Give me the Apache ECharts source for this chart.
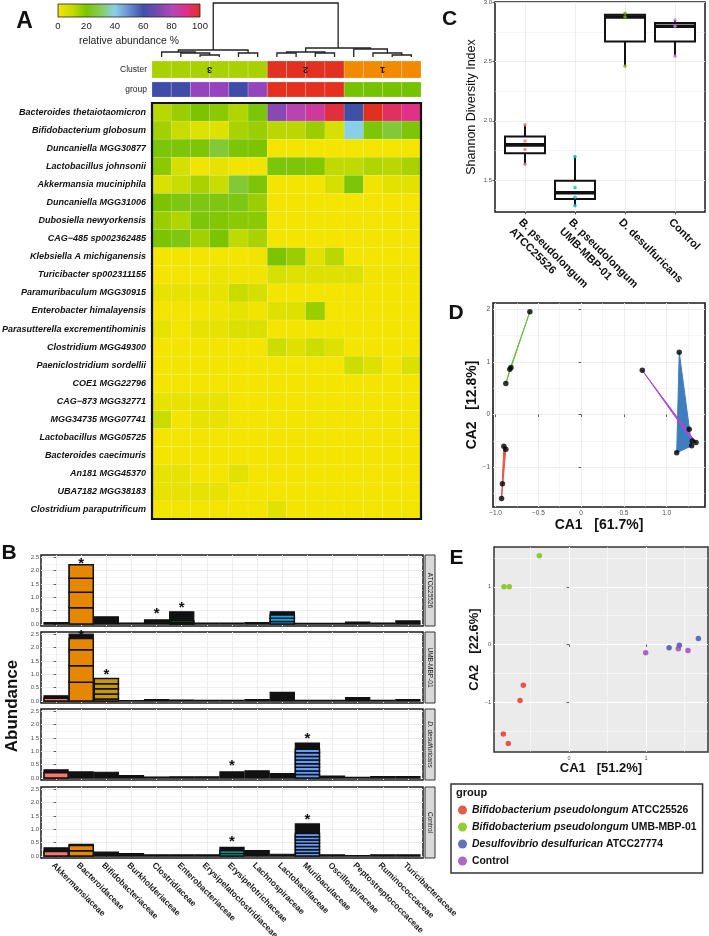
<!DOCTYPE html>
<html>
<head>
<meta charset="utf-8">
<script src="https://cdn.jsdelivr.net/npm/echarts/dist/echarts.min.js"></script>
<style>html,body{margin:0;padding:0;background:#fff}#c{width:709px;height:936px}</style>
</head>
<body>
<div id="c"></div>
<script>
// ================= DATA =================
const colorbarTicks = [0, 20, 40, 60, 80, 100];
const sampleCluster = [3, 3, 3, 3, 3, 3, 2, 2, 2, 2, 1, 1, 1, 1];
const sampleGroup = ['DD', 'DD', 'CT', 'CT', 'DD', 'CT', 'AT', 'AT', 'AT', 'AT', 'UM', 'UM', 'UM', 'UM'];
// [child a, child b, height]  (leaves 0..13, merged nodes numbered from 14)
const dendroMerges = [
  [2, 3, 0.037], [1, 14, 0.074], [0, 15, 0.093], [4, 5, 0.074], [16, 17, 0.13],
  [6, 7, 0.074], [8, 9, 0.074], [19, 20, 0.093], [12, 13, 0.037], [11, 22, 0.074],
  [10, 23, 0.148], [21, 24, 0.167], [18, 25, 1.0]
];
const species = [
  'Bacteroides thetaiotaomicron', 'Bifidobacterium globosum', 'Duncaniella MGG30877',
  'Lactobacillus johnsonii', 'Akkermansia muciniphila', 'Duncaniella MGG31006',
  'Dubosiella newyorkensis', 'CAG\u2212485 sp002362485', 'Klebsiella A michiganensis',
  'Turicibacter sp002311155', 'Paramuribaculum MGG30915', 'Enterobacter himalayensis',
  'Parasutterella excrementihominis', 'Clostridium MGG49300', 'Paeniclostridium sordellii',
  'COE1 MGG22796', 'CAG\u2212873 MGG32771', 'MGG34735 MGG07741', 'Lactobacillus MGG05725',
  'Bacteroides caecimuris', 'An181 MGG45370', 'UBA7182 MGG38183', 'Clostridium paraputrificum'
];
const abundance = [
  [12, 16, 20, 18, 13, 21, 73, 82, 86, 97, 60, 100, 94, 90],
  [15, 10, 5, 5, 14, 16, 12, 12, 16, 7, 40, 21, 26, 21],
  [21, 21, 21, 26, 21, 20, 0, 0, 0, 0, 0, 0, 0, 0],
  [18, 7, 1, 3, 1, 1, 21, 21, 19, 11, 11, 13, 12, 14],
  [6, 10, 14, 10, 26, 21, 0, 0, 0, 7, 21, 1, 4, 4],
  [20, 22, 22, 22, 22, 16, 0, 0, 0, 0, 0, 0, 0, 0],
  [16, 13, 21, 19, 18, 18, 0, 0, 0, 0, 0, 0, 0, 0],
  [20, 22, 15, 20, 11, 14, 0, 0, 0, 0, 0, 0, 0, 0],
  [0, 0, 0, 0, 0, 1, 20, 16, 4, 12, 0, 0, 0, 0],
  [0, 0, 0, 2, 1, 1, 7, 5, 5, 5, 5, 1, 1, 1],
  [3, 3, 3, 3, 10, 7, 0, 0, 0, 0, 0, 0, 0, 0],
  [0, 0, 0, 1, 3, 1, 5, 5, 16, 0, 0, 0, 0, 0],
  [3, 0, 3, 3, 6, 6, 0, 0, 0, 0, 0, 0, 0, 0],
  [0, 0, 0, 0, 0, 0, 9, 5, 9, 5, 0, 0, 0, 0],
  [0, 0, 0, 0, 0, 0, 0, 0, 0, 0, 9, 5, 0, 6],
  [0, 0, 0, 0, 0, 0, 0, 0, 0, 0, 0, 0, 0, 0],
  [3, 3, 3, 3, 0, 0, 0, 0, 0, 0, 0, 0, 0, 0],
  [10, 0, 3, 3, 0, 0, 0, 0, 0, 0, 0, 0, 0, 0],
  [0, 0, 0, 0, 0, 0, 0, 0, 0, 0, 0, 0, 0, 0],
  [0, 0, 0, 0, 0, 0, 0, 0, 0, 0, 0, 0, 0, 0],
  [3, 3, 0, 0, 4, 0, 0, 0, 0, 0, 0, 0, 0, 0],
  [3, 3, 3, 3, 0, 0, 0, 0, 0, 0, 0, 0, 0, 0],
  [0, 0, 0, 0, 0, 0, 4, 0, 0, 0, 0, 0, 0, 0]
];

const families = ['Akkermansiaceae', 'Bacteroidaceae', 'Bifidobacteriaceae', 'Burkholderiaceae',
  'Clostridiaceae', 'Enterobacteriaceae', 'Erysipelatoclostridiaceae', 'Erysipelotrichaceae',
  'Lachnospiraceae', 'Lactobacillaceae', 'Muribaculaceae', 'Oscillospiraceae',
  'Peptostreptococcaceae', 'Ruminococcaceae', 'Turicibacteraceae'];
const facetNames = ['ATCC25526', 'UMB-MBP-01', 'D. desulfuricans', 'Control'];
const familyTotals = [
  [0.06, 2.22, 0.27, 0.04, 0.16, 0.46, 0.04, 0.04, 0.06, 0.46, 0.03, 0.03, 0.08, 0.04, 0.12],
  [0.20, 2.50, 0.84, 0.02, 0.06, 0.04, 0.03, 0.03, 0.06, 0.33, 0.03, 0.03, 0.13, 0.03, 0.06],
  [0.31, 0.23, 0.22, 0.09, 0.04, 0.05, 0.05, 0.23, 0.27, 0.17, 1.31, 0.08, 0.03, 0.06, 0.06],
  [0.31, 0.44, 0.15, 0.09, 0.05, 0.05, 0.05, 0.33, 0.21, 0.07, 1.20, 0.05, 0.02, 0.05, 0.05]
];
// [facet, family, visible species segments from the bottom]; the rest of each bar = many tiny taxa
const speciesSegments = [
  [0, 1, [0.61, 0.58, 0.52, 0.51]],
  [0, 5, [0.05, 0.07]],
  [0, 9, [0.10, 0.12, 0.12]],
  [1, 0, [0.11]],
  [1, 1, [0.70, 0.62, 0.60, 0.42]],
  [1, 2, [0.08, 0.19, 0.19, 0.19, 0.19]],
  [2, 0, [0.20]],
  [2, 10, [0.135, 0.135, 0.135, 0.135, 0.135, 0.135, 0.135, 0.135]],
  [3, 0, [0.17]],
  [3, 1, [0.20, 0.20]],
  [3, 7, [0.10, 0.10]],
  [3, 10, [0.12, 0.12, 0.12, 0.12, 0.12, 0.12, 0.12]]
];
const starMarks = [[0, 1, 2.38], [0, 4, 0.52], [0, 5, 0.74], [1, 1, 2.6], [1, 2, 1.12],
  [2, 7, 0.6], [2, 10, 1.6], [3, 7, 0.67], [3, 10, 1.52]];
const abundanceTicks = [0, 0.5, 1, 1.5, 2, 2.5];
const abundanceMinor = [0.25, 0.75, 1.25, 1.75, 2.25];

const boxCats = ['B. pseudolongum\nATCC25526', 'B. pseudolongum\nUMB-MBP-01', 'D. desulfuricans', 'Control'];
const boxStats = [ // [min, Q1, median, Q3, max]
  [1.633, 1.726, 1.797, 1.867, 1.966],
  [1.282, 1.339, 1.392, 1.494, 1.697],
  [2.463, 2.672, 2.878, 2.897, 2.91],
  [2.547, 2.672, 2.80, 2.828, 2.853]
];
const shannonPoints = [[1.966, 1.83, 1.757, 1.633], [1.697, 1.435, 1.353, 1.282], [2.91, 2.878, 2.463], [2.853, 2.80, 2.547]];
const shannonTicks = [1.5, 2.0, 2.5, 3.0];
const shannonMinor = [1.25, 1.75, 2.25, 2.75];

const groupOrder = ['AT', 'UM', 'DD', 'CT'];
const groupSpecies = ['Bifidobacterium pseudolongum', 'Bifidobacterium pseudolongum', 'Desulfovibrio desulfurican', ''];
const groupStrain = ['ATCC25526', 'UMB-MBP-01', 'ATCC27774', 'Control'];
const caD = {
  UM: [[-0.599, 1.95], [-0.833, 0.86], [-0.82, 0.89], [-0.88, 0.59]],
  AT: [[-0.903, -0.60], [-0.88, -0.66], [-0.92, -1.31], [-0.93, -1.59]],
  DD: [[1.147, 1.18], [1.264, -0.277], [1.292, -0.594], [1.117, -0.726]],
  CT: [[0.715, 0.837], [1.343, -0.53], [1.30, -0.50]]
};
const caDTicksX = [-1, -0.5, 0, 0.5, 1], caDMinorX = [-0.75, -0.25, 0.25, 0.75, 1.25];
const caDTicksY = [-1, 0, 1, 2], caDMinorY = [-1.5, -0.5, 0.5, 1.5];
const caE = {
  AT: [[-0.593, -0.706], [-0.636, -0.972], [-0.853, -1.554], [-0.788, -1.716]],
  UM: [[-0.386, 1.54], [-0.844, 1.0], [-0.775, 1.0]],
  DD: [[1.30, -0.057], [1.433, -0.012], [1.68, 0.104]],
  CT: [[0.996, -0.144], [1.42, -0.075], [1.545, -0.104]]
};
const caETicksX = [0, 1], caEMinorX = [-0.5, 0.5, 1.5];
const caETicksY = [-1, 0, 1], caEMinorY = [-1.5, -0.5, 0.5, 1.5];

// ================= STYLE =================
const FONT = 'Liberation Sans, Arial, Helvetica, sans-serif';
const scaleColors = ['#F4E500', '#C8DC00', '#7CC400', '#88CC5C', '#88D0E8', '#6A8ED0', '#4050A8', '#7848B0', '#B048B8', '#E0308A', '#E03020'];
const clusterColors = {1: '#F28A00', 2: '#E13221', 3: '#A9D100'};
const groupColors = {AT: '#E3301F', UM: '#74C200', DD: '#3F4DA8', CT: '#9444BC'};
const hullColors = {AT: '#E8544A', UM: '#6DBE45', DD: '#3E7EBF', CT: '#A94BD0'};
const famColors = ['#F8766D', '#E58700', '#C99800', '#A3A500', '#6BB100', '#00BA38', '#00BF7D', '#00C0AF',
  '#00BCD8', '#00B0F6', '#619CFF', '#B983FF', '#E76BF3', '#FD61D1', '#FF67A4'];
const boxPointColors = ['#F8766D', '#00BFC4', '#7CAE00', '#C77CFF'];

// ================= BUILD =================
const xAxes = [], yAxes = [], grids = [], series = [], graphics = [];
function grid(g) { grids.push(Object.assign({containLabel: false, outerBoundsMode: 'none'}, g)); return grids.length - 1; }
function ax(list, gi, min, max, o) {
  o = o || {};
  list.push({
    type: 'value', gridIndex: gi, min: min, max: max, inverse: !!o.inverse,
    axisLine: {show: false},
    axisTick: {show: !!o.tick, customValues: o.ticks, length: o.tickLen || 2.5, lineStyle: {color: '#333', width: 0.8}},
    axisLabel: Object.assign({show: !!o.label, customValues: o.ticks, formatter: o.fmt, fontSize: o.fs || 6,
      color: o.lc || '#4d4d4d', margin: o.margin == null ? 3 : o.margin, fontFamily: FONT}, o.lab || {}),
    splitLine: {show: !!o.split, lineStyle: {color: o.sc || '#ebebeb', width: o.sw || 0.9}},
    name: o.name || '', nameLocation: 'middle', nameGap: o.nameGap || 10,
    nameTextStyle: Object.assign({fontFamily: FONT, color: '#111'}, o.ns || {})
  });
  return list.length - 1;
}
function txt(x, y, text, st, rot) {
  graphics.push({type: 'text', x: x, y: y, rotation: rot || 0,
    style: Object.assign({text: text, fontFamily: FONT, fill: '#111', align: 'center', verticalAlign: 'middle'}, st)});
}
const nS = sampleCluster.length, nR = species.length;

// ---- A: colour key ----
let g = grid({left: 58, top: 4, width: 142, height: 13});
let xi = ax(xAxes, g, colorbarTicks[0], colorbarTicks[colorbarTicks.length - 1], {label: true, ticks: colorbarTicks, fs: 9.5, lc: '#222', margin: 4,
  name: 'relative abundance %', nameGap: 19, ns: {fontSize: 10.4, color: '#222'}});
let yi = ax(yAxes, g, 0, 1);
series.push({type: 'custom', xAxisIndex: xi, yAxisIndex: yi, data: [[colorbarTicks[0], colorbarTicks[colorbarTicks.length - 1]]],
  renderItem: (p, api) => {
    const a = api.coord([api.value(0), 0]), b = api.coord([api.value(1), 1]);
    return {type: 'rect', shape: {x: a[0], y: b[1], width: b[0] - a[0], height: a[1] - b[1]},
      style: {fill: new echarts.graphic.LinearGradient(0, 0, 1, 0, scaleColors.map((c, i) => ({offset: i / (scaleColors.length - 1), color: c}))),
        stroke: '#222', lineWidth: 0.8}};
  }});

// ---- A: dendrogram ----
g = grid({left: 152, top: 3, width: 269, height: 54});
xi = ax(xAxes, g, 0, nS); yi = ax(yAxes, g, 0, 1);
const nodeX = sampleCluster.map((_, i) => i + 0.5), nodeH = sampleCluster.map(() => 0);
const dendroSegs = dendroMerges.map(([a, b, h]) => {
  const s = [nodeX[a], nodeH[a], h, nodeX[b], nodeH[b]];
  nodeX.push((nodeX[a] + nodeX[b]) / 2); nodeH.push(h); return s;
});
series.push({type: 'custom', xAxisIndex: xi, yAxisIndex: yi, data: dendroSegs,
  renderItem: (p, api) => ({type: 'polyline', shape: {points: [
    api.coord([api.value(0), api.value(1)]), api.coord([api.value(0), api.value(2)]),
    api.coord([api.value(3), api.value(2)]), api.coord([api.value(3), api.value(4)])]},
    style: {stroke: '#222', lineWidth: 1.3, fill: null}})});

// ---- A: annotation bars ----
function annot(top, height, keys, colors, label) {
  const gg = grid({left: 152, top: top, width: 269, height: height});
  const xa = ax(xAxes, gg, 0, nS);
  const ya = ax(yAxes, gg, 0, 1, {label: true, ticks: [0.5], fmt: () => label, fs: 8.5, lc: '#222', margin: 5});
  series.push({type: 'custom', xAxisIndex: xa, yAxisIndex: ya, data: keys.map((k, i) => [i, 0]),
    renderItem: (p, api) => {
      const a = api.coord([api.value(0), 0]), b = api.coord([api.value(0) + 1, 1]);
      return {type: 'rect', shape: {x: a[0], y: b[1], width: b[0] - a[0], height: a[1] - b[1]},
        style: {fill: colors[keys[p.dataIndex]], stroke: 'rgba(255,255,255,0.3)', lineWidth: 0.6}};
    }});
  return [xa, ya];
}
const [cxA, cyA] = annot(61, 17, sampleCluster, clusterColors, 'Cluster');
annot(82, 15, sampleGroup, groupColors, 'group');
const clusterIds = [...new Set(sampleCluster)];
const clusterCenters = clusterIds.map(c => {
  const idx = sampleCluster.map((v, i) => v === c ? i + 0.5 : null).filter(v => v !== null);
  return [idx.reduce((s, v) => s + v, 0) / idx.length, 0.5, c];
});
series.push({type: 'custom', xAxisIndex: cxA, yAxisIndex: cyA, data: clusterCenters, z: 4,
  renderItem: (p, api) => {
    const q = api.coord([api.value(0), api.value(1)]);
    return {type: 'text', x: q[0], y: q[1], rotation: Math.PI,
      style: {text: String(api.value(2)), fontFamily: FONT, fontSize: 9.5, fontWeight: 'bold', fill: '#111', align: 'center', verticalAlign: 'middle'}};
  }});

// ---- A: heatmap ----
g = grid({left: 152, top: 103, width: 269, height: 416});
xi = ax(xAxes, g, 0, nS);
yi = ax(yAxes, g, 0, nR, {inverse: true, label: true, ticks: species.map((_, i) => i + 0.5), fmt: v => species[Math.floor(v)],
  fs: 9, lc: '#111', margin: 6, lab: {fontWeight: 'bold', fontStyle: 'italic'}});
const heatData = [];
abundance.forEach((row, r) => row.forEach((v, c) => heatData.push([c, r, v])));
const heatSeries = series.length;
series.push({type: 'custom', xAxisIndex: xi, yAxisIndex: yi, data: heatData,
  renderItem: (p, api) => {
    const c = api.value(0), r = api.value(1);
    const a = api.coord([c, r]), b = api.coord([c + 1, r + 1]);
    return {type: 'rect', shape: {x: a[0], y: a[1], width: b[0] - a[0], height: b[1] - a[1]},
      style: {fill: api.visual('color'), stroke: 'rgba(255,255,255,0.16)', lineWidth: 0.5}};
  }});
series.push({type: 'custom', xAxisIndex: xi, yAxisIndex: yi, data: [[0, 0, nS, nR]], z: 5,
  renderItem: (p, api) => {
    const a = api.coord([api.value(0), api.value(1)]), b = api.coord([api.value(2), api.value(3)]);
    return {type: 'rect', shape: {x: a[0], y: a[1], width: b[0] - a[0], height: b[1] - a[1]},
      style: {fill: null, stroke: '#111', lineWidth: 2.2}};
  }});

// ---- B: faceted bars ----
const facetTops = [555, 632, 709, 787];
const facetH = 71;
facetTops.forEach((top, p) => {
  const gg = grid({left: 41, top: top, width: 382, height: facetH, show: true, borderColor: '#1a1a1a', borderWidth: 1.5, backgroundColor: '#fff'});
  const last = p === facetTops.length - 1;
  const xa = ax(xAxes, gg, -0.6, families.length - 0.4, {split: true, ticks: families.map((_, i) => i), tick: last, label: last,
    fmt: v => families[v], fs: 8.5, lc: '#1a1a1a', margin: 3, lab: {rotate: -45, align: 'left', verticalAlign: 'top', fontWeight: 'bold'}});
  const ya = ax(yAxes, gg, -0.07, 2.58, {split: true, tick: true, label: true, ticks: abundanceTicks, fmt: v => v.toFixed(1), fs: 6, margin: 2});
  ax(yAxes, gg, -0.07, 2.58, {split: true, ticks: abundanceMinor, sw: 0.5});
  const segLookup = {};
  speciesSegments.filter(s => s[0] === p).forEach(s => { segLookup[s[1]] = s[2]; });
  series.push({type: 'custom', xAxisIndex: xa, yAxisIndex: ya, data: familyTotals[p].map((v, f) => [f, v]),
    renderItem: (prm, api) => {
      const f = api.value(0), total = api.value(1);
      const w = api.size([0.96, 0])[0];
      const x0 = api.coord([f, 0])[0] - w / 2;
      const y = v => api.coord([f, v])[1];
      const ch = [{type: 'rect', shape: {x: x0, y: y(total), width: w, height: y(0) - y(total)}, style: {fill: '#111', stroke: '#111', lineWidth: 1.2}}];
      let acc = 0;
      (segLookup[f] || []).forEach(s => {
        ch.push({type: 'rect', shape: {x: x0, y: y(acc + s), width: w, height: y(acc) - y(acc + s)},
          style: {fill: famColors[f], stroke: '#111', lineWidth: 1.5}});
        acc += s;
      });
      return {type: 'group', children: ch};
    }});
  series.push({type: 'custom', xAxisIndex: xa, yAxisIndex: ya, z: 4,
    data: starMarks.filter(s => s[0] === p).map(s => [s[1], s[2]]),
    renderItem: (prm, api) => {
      const q = api.coord([api.value(0), api.value(1)]);
      return {type: 'text', x: q[0], y: q[1] + 4, style: {text: '*', fontFamily: FONT, fontSize: 15, fontWeight: 'bold', fill: '#111', align: 'center', verticalAlign: 'middle'}};
    }});
  // strip
  graphics.push({type: 'rect', shape: {x: 425, y: top, width: 10, height: facetH}, style: {fill: '#D9D9D9', stroke: '#333', lineWidth: 1}});
  txt(430, top + facetH / 2, facetNames[p], {fontSize: 6.5, fill: '#1a1a1a', fontStyle: p === 2 ? 'italic' : 'normal'}, -Math.PI / 2);
});

// ---- C: Shannon boxplot ----
g = grid({left: 495, top: 2, width: 210, height: 210, show: true, borderColor: '#1a1a1a', borderWidth: 1.5, backgroundColor: '#fff'});
xi = ax(xAxes, g, 0.4, boxCats.length + 0.6, {split: true, tick: true, label: true, ticks: boxCats.map((_, i) => i + 1),
  fmt: v => boxCats[Math.round(v) - 1], fs: 11, lc: '#111', margin: 4, lab: {rotate: -45, align: 'left', verticalAlign: 'top', fontWeight: 'bold', lineHeight: 13}});
yi = ax(yAxes, g, 1.229, 3.005, {split: true, tick: true, label: true, ticks: shannonTicks, fmt: v => v.toFixed(1), fs: 6, margin: 3,
  name: 'Shannon Diversity Index', nameGap: 17, ns: {fontSize: 12.5}});
ax(yAxes, g, 1.229, 3.005, {split: true, ticks: shannonMinor, sw: 0.5});
series.push({type: 'custom', xAxisIndex: xi, yAxisIndex: yi, data: boxStats.map((s, i) => [i + 1].concat(s)),
  renderItem: (p, api) => {
    const x = api.value(0);
    const c = k => api.coord([x, api.value(k)]);
    const hw = api.size([0.8, 0])[0] / 2;
    const pMin = c(1), pQ1 = c(2), pMed = c(3), pQ3 = c(4), pMax = c(5);
    return {type: 'group', children: [
      {type: 'line', shape: {x1: pMin[0], y1: pMin[1], x2: pMax[0], y2: pMax[1]}, style: {stroke: '#111', lineWidth: 2}},
      {type: 'rect', shape: {x: pQ3[0] - hw, y: pQ3[1], width: 2 * hw, height: pQ1[1] - pQ3[1]}, style: {fill: '#fff', stroke: '#111', lineWidth: 2}},
      {type: 'line', shape: {x1: pMed[0] - hw, y1: pMed[1], x2: pMed[0] + hw, y2: pMed[1]}, style: {stroke: '#111', lineWidth: 3.6}}
    ]};
  }});
shannonPoints.forEach((pts, i) => {
  series.push({type: 'scatter', xAxisIndex: xi, yAxisIndex: yi, symbolSize: 3.6, z: 5,
    itemStyle: {color: boxPointColors[i]}, data: pts.map(v => [i + 1, v])});
});

// ---- D: CA with hulls ----
g = grid({left: 493, top: 303, width: 212, height: 204, show: true, borderColor: '#1a1a1a', borderWidth: 1.6, backgroundColor: '#fff'});
xi = ax(xAxes, g, -1.03, 1.448, {split: true, tick: true, label: true, ticks: caDTicksX, fs: 6.5, margin: 3,
  fmt: v => v === 0 ? '0' : (v < 0 ? '\u2212' : '') + Math.abs(v).toFixed(1),
  name: 'CA1   [61.7%]', nameGap: 10, ns: {fontSize: 14, fontWeight: 'bold'}});
ax(xAxes, g, -1.03, 1.448, {split: true, ticks: caDMinorX, sw: 0.5});
yi = ax(yAxes, g, -1.753, 2.114, {split: true, tick: true, label: true, ticks: caDTicksY, fs: 6.5, margin: 3,
  fmt: v => (v < 0 ? '\u2212' : '') + Math.abs(v),
  name: 'CA2   [12.8%]', nameGap: 11, ns: {fontSize: 14, fontWeight: 'bold'}});
ax(yAxes, g, -1.753, 2.114, {split: true, ticks: caDMinorY, sw: 0.5});
function hull(pts) {
  const p = pts.slice().sort((a, b) => a[0] - b[0] || a[1] - b[1]);
  const cr = (o, a, b) => (a[0] - o[0]) * (b[1] - o[1]) - (a[1] - o[1]) * (b[0] - o[0]);
  const lo = [], up = [];
  p.forEach(q => { while (lo.length >= 2 && cr(lo[lo.length - 2], lo[lo.length - 1], q) <= 0) lo.pop(); lo.push(q); });
  p.slice().reverse().forEach(q => { while (up.length >= 2 && cr(up[up.length - 2], up[up.length - 1], q) <= 0) up.pop(); up.push(q); });
  return lo.slice(0, -1).concat(up.slice(0, -1));
}
series.push({type: 'custom', xAxisIndex: xi, yAxisIndex: yi, data: groupOrder.map(k => caD[k][0].concat([groupOrder.indexOf(k)])),
  renderItem: (p, api) => {
    const k = groupOrder[p.dataIndex];
    return {type: 'polygon', shape: {points: hull(caD[k]).map(q => api.coord(q))},
      style: {fill: hullColors[k], stroke: hullColors[k], lineWidth: 1}};
  }});
series.push({type: 'scatter', xAxisIndex: xi, yAxisIndex: yi, symbolSize: 5.5, z: 5, itemStyle: {color: '#000'},
  data: groupOrder.reduce((acc, k) => acc.concat(caD[k]), [])});

// ---- E: CA scatter ----
g = grid({left: 494, top: 547, width: 214, height: 205, show: true, borderColor: '#333', borderWidth: 1.5, backgroundColor: '#EBEBEB'});
xi = ax(xAxes, g, -0.974, 1.805, {split: true, tick: true, label: true, ticks: caETicksX, fs: 5.5, margin: 3, sc: '#fff', sw: 1.1,
  fmt: v => String(v), name: 'CA1   [51.2%]', nameGap: 10, ns: {fontSize: 13, fontWeight: 'bold'}});
ax(xAxes, g, -0.974, 1.805, {split: true, ticks: caEMinorX, sc: '#fff', sw: 0.5});
yi = ax(yAxes, g, -1.865, 1.69, {split: true, tick: true, label: true, ticks: caETicksY, fs: 5.5, margin: 3, sc: '#fff', sw: 1.1,
  fmt: v => (v < 0 ? '\u2212' : '') + Math.abs(v), name: 'CA2   [22.6%]', nameGap: 10, ns: {fontSize: 13, fontWeight: 'bold'}});
ax(yAxes, g, -1.865, 1.69, {split: true, ticks: caEMinorY, sc: '#fff', sw: 0.5});
const legendNames = groupOrder.map((k, i) => (groupSpecies[i] ? groupSpecies[i] + ' ' : '') + groupStrain[i]);
groupOrder.forEach((k, i) => {
  series.push({type: 'scatter', name: legendNames[i], xAxisIndex: xi, yAxisIndex: yi, symbolSize: 5.5,
    itemStyle: {color: groupColors[k]}, data: caE[k]});
});

// ---- labels ----
txt(24.5, 22, 'A', {fontSize: 23, fontWeight: 'bold'});
txt(9, 553, 'B', {fontSize: 21, fontWeight: 'bold'});
txt(449.5, 19, 'C', {fontSize: 21, fontWeight: 'bold'});
txt(456, 313, 'D', {fontSize: 21, fontWeight: 'bold'});
txt(456.5, 558, 'E', {fontSize: 21, fontWeight: 'bold'});
txt(12, 706, 'Abundance', {fontSize: 17, fontWeight: 'bold'}, Math.PI / 2);
txt(456, 793, 'group', {fontSize: 11, fontWeight: 'bold', align: 'left'});

const chart = echarts.init(document.getElementById('c'), null, {renderer: 'canvas', width: 709, height: 936});
chart.setOption({
  animation: false,
  backgroundColor: '#fff',
  textStyle: {fontFamily: FONT},
  grid: grids, xAxis: xAxes, yAxis: yAxes,
  visualMap: [{type: 'continuous', show: false, min: colorbarTicks[0], max: colorbarTicks[colorbarTicks.length - 1], dimension: 2,
    seriesIndex: heatSeries, inRange: {color: scaleColors}}],
  legend: {
    left: 451, top: 784, orient: 'vertical', data: legendNames, icon: 'circle',
    itemWidth: 9, itemHeight: 9, itemGap: 5, padding: [20, 6, 6, 7],
    borderColor: '#333', borderWidth: 1.5, selectedMode: false,
    formatter: name => {
      const i = legendNames.indexOf(name);
      return (groupSpecies[i] ? '{i|' + groupSpecies[i] + '} ' : '') + '{n|' + groupStrain[i] + '}';
    },
    textStyle: {fontSize: 10.4, fontWeight: 'bold', color: '#111', fontFamily: FONT, lineHeight: 12,
      rich: {i: {fontStyle: 'italic', fontWeight: 'bold', fontSize: 10.4, lineHeight: 12, fontFamily: FONT, color: '#111'},
             n: {fontWeight: 'bold', fontSize: 10.4, lineHeight: 12, fontFamily: FONT, color: '#111'}}}
  },
  graphic: graphics,
  series: series
});
</script>
</body>
</html>
